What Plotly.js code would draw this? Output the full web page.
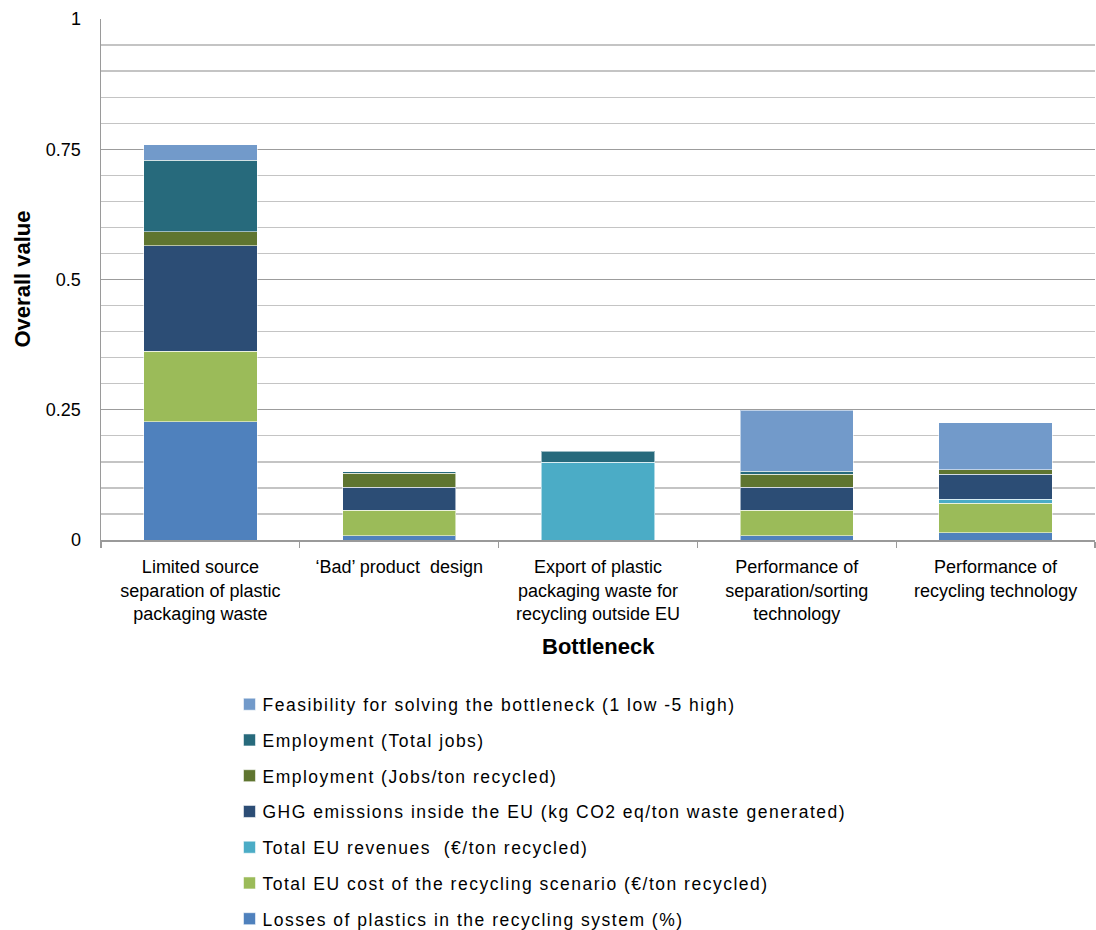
<!DOCTYPE html>
<html>
<head>
<meta charset="utf-8">
<script src="https://cdn.plot.ly/plotly-3.0.1.min.js"></script>
<style>
  html, body { margin: 0; padding: 0; background: #fff; }
  #chart { width: 1096px; height: 930px; }
  /* legend captions are set with slightly open letter spacing */
  #chart .legendtext { letter-spacing: 1.5px; }
</style>
</head>
<body>
<div id="chart"></div>
<script>
// Bottleneck categories (x axis)
const categories = [
  'Limited source<br>separation of plastic<br>packaging waste',
  '\u2018Bad\u2019 product \u00a0design',
  'Export of plastic<br>packaging waste for<br>recycling outside EU',
  'Performance of<br>separation/sorting<br>technology',
  'Performance of<br>recycling technology'
];

// Stacked contributions to the overall value, bottom to top
const losses      = [0.227, 0.008, null,  0.008, 0.014];
const cost        = [0.135, 0.049, null,  0.049, 0.057];
const revenues    = [null,  null,  0.149, null,  0.007];
const ghg         = [0.203, 0.044, null,  0.044, 0.048];
const jobsPerTon  = [0.027, 0.027, null,  0.025, 0.009];
const totalJobs   = [0.137, 0.003, 0.021, 0.006, null];
const feasibility = [0.030, null,  null,  0.117, 0.090];

const seriesNames = [
  'Losses of plastics in the recycling system (%)',
  'Total EU cost of the recycling scenario (\u20ac/ton recycled)',
  'Total EU revenues \u00a0(\u20ac/ton recycled)',
  'GHG emissions inside the EU (kg CO2 eq/ton waste generated)',
  'Employment (Jobs/ton recycled)',
  'Employment (Total jobs)',
  'Feasibility for solving the bottleneck (1 low -5 high)'
];
const seriesValues = [losses, cost, revenues, ghg, jobsPerTon, totalJobs, feasibility];
const seriesColors = ['#4F81BD', '#9BBB59', '#4BACC6', '#2C4D75', '#5F7530', '#276A7C', '#729ACA'];

const yTickVals = [0, 0.25, 0.5, 0.75, 1];
const yTickText = ['0', '0.25', '0.5', '0.75', '1'];

const xTitle = 'Bottleneck';
const yTitle = 'Overall value';

const FONT = 'Arial, "Liberation Sans", Helvetica, sans-serif';

// Legend lists the top segment first
const traces = seriesNames.map((name, i) => ({
  type: 'bar',
  name: name,
  x: categories,
  y: seriesValues[i],
  legendgroup: 'g' + i,
  legendrank: (seriesNames.length - i) * 10,
  marker: { color: seriesColors[i], line: { color: 'rgba(255,255,255,0.55)', width: 1 } },
  hoverinfo: 'name+y'
}));

const layout = {
  width: 1096,
  height: 930,
  margin: { l: 101, r: 1, t: 19, b: 390, autoexpand: false },
  paper_bgcolor: '#ffffff',
  plot_bgcolor: '#ffffff',
  barmode: 'stack',
  bargap: 0.43,
  font: { family: FONT, size: 18, color: '#000' },
  showlegend: true,
  legend: {
    traceorder: 'grouped',
    tracegroupgap: 10,
    orientation: 'v',
    xref: 'container', yref: 'container',
    x: 0.203, y: 0.262,
    xanchor: 'left', yanchor: 'top',
    font: { family: FONT, size: 17.5, color: '#000' },
    bgcolor: 'rgba(0,0,0,0)',
    itemwidth: 30
  },
  xaxis: {
    type: 'category',
    range: [-0.5, 4.5],
    showline: true,
    linecolor: '#9a9a9a',
    linewidth: 1.5,
    ticks: 'outside',
    tickson: 'boundaries',
    ticklen: 6,
    tickcolor: '#9a9a9a',
    tickwidth: 1.2,
    tickangle: 0,
    ticklabelstandoff: 10,
    showgrid: false,
    automargin: false,
    tickfont: { family: FONT, size: 18, color: '#000' }
  },
  yaxis: {
    range: [0, 1],
    tickmode: 'array',
    tickvals: yTickVals,
    ticktext: yTickText,
    ticks: '',
    ticklabelstandoff: 15,
    showline: true,
    linecolor: '#9a9a9a',
    linewidth: 1.5,
    showgrid: true,
    gridcolor: '#9c9c9c',
    gridwidth: 1.3,
    zeroline: false,
    automargin: false,
    minor: { dtick: 0.05, showgrid: true, gridcolor: '#c4c4c4', gridwidth: 1.3, ticks: '' },
    tickfont: { family: FONT, size: 18, color: '#000' }
  },
  annotations: [
    {
      // x-axis title, below the category labels
      text: '<b>' + xTitle + '</b>',
      xref: 'paper', yref: 'paper',
      x: 0.5, y: (540 - 646) / 521,
      xanchor: 'center', yanchor: 'middle',
      showarrow: false,
      font: { family: FONT, size: 22, color: '#000' }
    },
    {
      // y-axis title, rotated, left of the tick labels
      text: '<b>' + yTitle + '</b>',
      xref: 'paper', yref: 'paper',
      x: (22 - 101) / 994, y: 0.5,
      xanchor: 'center', yanchor: 'middle',
      textangle: -90,
      showarrow: false,
      font: { family: FONT, size: 22, color: '#000' }
    }
  ]
};

Plotly.newPlot('chart', traces, layout, { displayModeBar: false, staticPlot: true }).then(gd => {
  // the wider legend captions must not be cut by the legend's own clip box
  gd.querySelectorAll('.legend [clip-path]').forEach(el => el.removeAttribute('clip-path'));
  // keep each legend swatch close to its caption
  gd.querySelectorAll('.legend .legendpoints').forEach(el => {
    const t = el.getAttribute('transform') || '';
    el.setAttribute('transform', 'translate(7,0) ' + t);
  });
});
</script>
</body>
</html>
